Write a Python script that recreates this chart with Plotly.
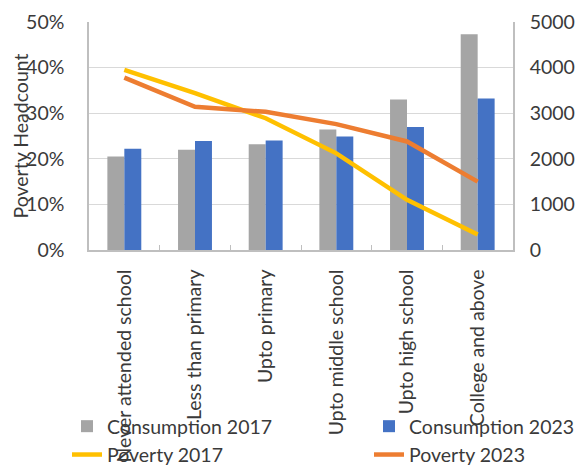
import plotly.graph_objects as go

categories = ["Never attended school", "Less than primary", "Upto primary",
              "Upto middle school", "Upto high school", "College and above"]
consumption_2017 = [2050, 2200, 2320, 2640, 3300, 4730]
consumption_2023 = [2220, 2390, 2400, 2490, 2700, 3320]
poverty_2017 = [0.395, 0.344, 0.289, 0.212, 0.110, 0.034]
poverty_2023 = [0.378, 0.314, 0.303, 0.276, 0.238, 0.150]

FONT = "Lato"
FS = 19.5
TXT = "#3a3a3a"
GRID = "#D9D9D9"
AX = "#BFBFBF"

W, H = 576, 468
L, R, T, B = 89, 63, 22, 218

fig = go.Figure()
fig.add_trace(go.Bar(x=categories, y=consumption_2017, name="Consumption 2017",
                     marker=dict(color="#A5A5A5", line=dict(width=0)), yaxis="y",
                     legend="legend"))
fig.add_trace(go.Bar(x=categories, y=consumption_2023, name="Consumption 2023",
                     marker=dict(color="#4472C4", line=dict(width=0)), yaxis="y",
                     legend="legend2"))
fig.add_trace(go.Scatter(x=categories, y=poverty_2017, name="Poverty 2017", mode="lines",
                         line=dict(color="#FFC000", width=4.5), yaxis="y2",
                         legend="legend"))
fig.add_trace(go.Scatter(x=categories, y=poverty_2023, name="Poverty 2023", mode="lines",
                         line=dict(color="#ED7D31", width=4.5), yaxis="y2",
                         legend="legend2"))

leg_common = dict(orientation="v", xref="container", yref="container",
                  xanchor="left", yanchor="top", font=dict(size=FS, color=TXT),
                  bgcolor="rgba(0,0,0,0)", traceorder="normal", tracegroupgap=0)

fig.update_layout(
    width=W, height=H,
    margin=dict(l=L, r=R, t=T, b=B, autoexpand=False),
    paper_bgcolor="white", plot_bgcolor="white",
    font=dict(family=FONT, size=FS, color=TXT),
    barmode="group", bargap=0.52, bargroupgap=0,
    xaxis=dict(type="category", tickangle=-90, showline=True, linecolor=AX, linewidth=1.5,
               ticks="inside", tickson="boundaries", ticklen=5, tickcolor=AX,
               showgrid=False, automargin=False, ticklabelstandoff=10),
    yaxis=dict(side="right", range=[0, 5000], dtick=1000, showgrid=True, gridcolor=GRID,
               gridwidth=1.2, showline=True, linecolor=AX, linewidth=1.5, zeroline=False,
               ticks="", ticklabelstandoff=11, automargin=False),
    yaxis2=dict(side="left", overlaying="y", range=[0, 0.5], dtick=0.1, tickformat=".0%",
                showgrid=False, showline=True, linecolor=AX, linewidth=1.5, zeroline=False,
                ticks="", ticklabelstandoff=19, automargin=False),
    annotations=[dict(text="Poverty Headcount", textangle=-90, showarrow=False,
                      xref="paper", yref="paper", x=(19.5 - L) / (W - L - R), y=0.5,
                      xanchor="center", yanchor="middle",
                      font=dict(size=FS, color=TXT, family=FONT))],
    legend=dict(x=67 / W, y=1 - 407 / H, **leg_common),
    legend2=dict(x=369 / W, y=1 - 407 / H, **leg_common),
    showlegend=True,
)

fig.write_html(
    "out.html",
    config={"displayModeBar": False},
    post_script="document.body.style.margin='0';document.body.style.overflow='hidden';",
)
